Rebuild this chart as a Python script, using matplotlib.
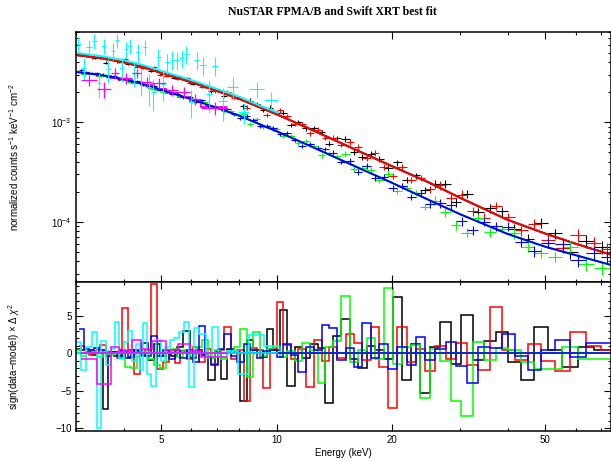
import numpy as np
import matplotlib
matplotlib.use("Agg")
import matplotlib.pyplot as plt
from matplotlib.ticker import FixedLocator, FixedFormatter, NullFormatter, LogLocator, MultipleLocator

plt.rcParams['font.family'] = ['Liberation Sans', 'DejaVu Sans']
plt.rcParams['mathtext.fontset'] = 'custom'
plt.rcParams['mathtext.rm'] = 'Liberation Sans'
plt.rcParams['mathtext.it'] = 'Liberation Sans:italic'

# ---- data (fluxes in units of 1e-3 counts/s/keV/cm^2) ----
FLUX_UNIT = 1e-3

# NuSTAR energy bins (keV): grid A -> black & green, grid B -> red & blue
energy_a = [3.05, 3.15, 3.25, 3.36, 3.47, 3.59, 3.71, 3.84, 3.97, 4.11, 4.25, 4.40, 4.55, 4.71, 4.88,
            5.05, 5.23, 5.42, 5.62, 5.83, 6.05, 6.28, 6.52, 6.77, 7.03, 7.30, 7.59, 7.89, 8.20, 8.53,
            8.87, 9.23, 9.61, 10.0, 10.4, 10.9, 11.4, 11.9, 12.5, 13.1, 13.7, 14.4, 15.1, 15.9, 16.7,
            17.6, 18.5, 19.5, 20.6, 21.8, 23.0, 24.4, 25.9, 27.5, 29.3, 31.3, 33.5, 35.9, 38.6, 41.6,
            45.0, 48.8, 53.0, 58.0, 64.0, 70.5]
energy_b = [3.10, 3.20, 3.30, 3.41, 3.53, 3.65, 3.77, 3.90, 4.04, 4.18, 4.33, 4.48, 4.63, 4.80, 4.97,
            5.14, 5.33, 5.52, 5.72, 5.94, 6.16, 6.40, 6.64, 6.90, 7.17, 7.45, 7.74, 8.05, 8.37, 8.70,
            9.05, 9.42, 9.80, 10.2, 10.65, 11.15, 11.65, 12.2, 12.8, 13.4, 14.05, 14.75, 15.5, 16.3, 17.15,
            18.05, 19.0, 20.05, 21.2, 22.4, 23.7, 25.15, 26.7, 28.4, 30.3, 32.4, 34.7, 37.2, 40.1, 43.3,
            46.9, 50.9, 55.5, 61.0, 67.0, 72.5]
err_frac = [0.03] * 28 + [0.05] * 14 + [0.07] * 10 + [0.10] * 7 + [0.12] * 4 + [0.15] * 3

flux_black = [4.81, 4.73, 4.63, 4.43, 4.49, 3.97, 4.30, 4.09, 4.14, 3.86, 3.91, 3.77, 3.64, 3.29, 3.34,
              3.04, 3.01, 2.81, 2.83, 2.76, 2.44, 2.44, 2.25, 2.04, 2.08, 1.84, 1.90, 1.77, 1.44, 1.65,
              1.51, 1.32, 1.40, 1.24, 1.25, 0.93, 1.00, 0.865, 0.865, 0.79, 0.61, 0.69, 0.678, 0.506, 0.443,
              0.482, 0.428, 0.348, 0.393, 0.261, 0.291, 0.210, 0.241, 0.241, 0.157, 0.190, 0.124, 0.137, 0.128,
              0.085, 0.067, 0.097, 0.076, 0.050, 0.064, 0.055]
flux_green = [3.24, 3.08, 3.14, 3.07, 2.92, 2.97, 2.82, 2.84, 2.68, 2.56, 2.48, 2.46, 2.41, 2.22, 2.10,
              2.00, 2.04, 1.97, 1.82, 1.80, 1.66, 1.65, 1.60, 1.43, 1.42, 1.28, 1.28, 1.21, 1.21, 0.957,
              1.07, 0.90, 0.899, 0.848, 0.730, 0.722, 0.617, 0.644, 0.572, 0.463, 0.494, 0.459, 0.476, 0.337,
              0.347, 0.334, 0.261, 0.302, 0.204, 0.216, 0.195, 0.140, 0.163, 0.124, 0.0926, 0.0776, 0.109,
              0.0782, 0.085, 0.0762, 0.056, 0.0487, 0.0444, 0.055, 0.0376, 0.0341]
flux_red = [4.81, 4.69, 4.47, 4.52, 4.51, 4.20, 4.25, 4.01, 4.28, 3.97, 3.59, 3.52, 3.52, 3.60, 3.01,
            2.93, 2.97, 2.71, 2.73, 2.49, 2.52, 2.25, 2.27, 2.04, 2.04, 2.02, 1.75, 1.76, 1.40, 1.57,
            1.46, 1.18, 1.29, 1.31, 1.14, 0.955, 0.966, 0.769, 0.843, 0.694, 0.70, 0.591, 0.629, 0.558,
            0.439, 0.486, 0.353, 0.290, 0.357, 0.264, 0.274, 0.211, 0.231, 0.173, 0.187, 0.128, 0.110,
            0.144, 0.112, 0.0815, 0.0939, 0.066, 0.0545, 0.074, 0.061, 0.0526]
flux_blue = [3.33, 3.18, 3.12, 3.09, 3.01, 2.84, 2.88, 2.72, 2.74, 2.57, 2.60, 2.39, 2.29, 2.33, 2.10,
             2.09, 1.92, 1.94, 1.78, 1.77, 1.61, 1.66, 1.47, 1.38, 1.38, 1.35, 1.20, 1.09, 1.14, 1.06,
             0.916, 0.916, 0.865, 0.757, 0.772, 0.661, 0.578, 0.608, 0.553, 0.541, 0.495, 0.396, 0.405,
             0.315, 0.363, 0.275, 0.284, 0.218, 0.227, 0.176, 0.194, 0.149, 0.154, 0.146, 0.101, 0.0824,
             0.100, 0.0894, 0.0891, 0.0625, 0.0506, 0.0612, 0.0593, 0.0408, 0.0487, 0.0445]

resid_black = [0.6, 0.5, 0.3, -0.2, 0.4, -7.4, 0.2, -0.3, 0.5, -0.6, 0.4, 0.3, 1.4, -0.9, 1.3, -0.4,
               0.2, -0.3, 0.8, 3.0, -0.6, 0.4, -0.2, -3.5, 0.3, -3.4, 0.6, 0.2, -6.4, 1.8, 0.4, -0.5,
               3.3, 0.5, 5.8, -4.3, 0.8, -0.6, 1.2, 0.7, -6.6, 2.3, 4.6, -0.8, -1.9, 1.0, 0.4, -0.7,
               7.5, -3.5, 1.2, -5.3, 0.9, 4.2, -1.4, 5.1, -0.9, 1.7, 2.9, -1.1, -3.6, 3.5, 0.4, -1.8,
               0.9, 0.5]
resid_green = [0.4, -0.3, 0.5, 0.2, -0.5, 0.3, -0.2, 0.1, -0.6, -1.8, -1.9, -0.4, 0.2, -0.7, -1.6, -2.0,
               0.3, 0.6, -0.5, 0.4, -0.3, 0.8, 1.8, -0.6, 0.5, -0.8, 0.3, 0.9, 3.2, -3.2, 2.8, -0.4,
               0.6, 0.9, -0.5, 0.3, -1.0, 1.4, 0.4, -3.9, 0.8, 1.6, 7.6, -1.2, 0.5, 2.0, -0.7, 8.7,
               -1.4, 0.9, 1.1, -6.0, 0.6, -1.0, -6.4, -8.3, 1.5, -0.9, 0.7, 0.4, -1.2, -2.1, -2.1, 0.8,
               -0.8, -0.8]
resid_red = [1.0, 0.4, -0.2, 0.3, 1.1, -0.4, 0.2, -0.6, 6.0, 0.5, -2.7, -0.3, 0.4, 9.2, -2.1, -1.2,
             0.5, -1.3, 0.3, -0.8, 0.9, -1.2, 0.6, -1.4, 0.4, 3.5, -0.7, 0.5, -6.4, 0.7, 0.5, -4.6,
             0.6, 6.9, 1.1, -0.8, 0.6, -4.5, 1.8, -1.0, 0.8, -0.6, 2.6, 1.4, -0.9, 3.5, -1.8, -7.3,
             3.5, -1.1, 0.6, -2.4, 1.0, -0.7, 1.4, -1.6, -2.2, 6.2, 0.5, -0.9, 1.2, -1.0, -2.4, 2.9,
             1.0, 0.4]
resid_blue = [3.3, 0.6, 0.5, 0.7, 0.5, -0.3, 0.2, -0.4, 0.3, -0.5, 0.4, -0.2, -0.4, 2.3, -0.3, 0.5,
              -0.8, 0.4, -0.6, 0.5, -1.2, 3.6, -0.4, -1.6, 0.6, 2.6, -0.4, -1.1, 1.2, 0.5, -0.6, 0.3,
              0.4, -0.5, 1.3, -0.2, -2.5, 0.9, 0.5, 3.8, 3.4, -0.9, 0.7, -1.8, 4.0, -0.6, 1.2, -2.1,
              0.8, -1.5, 2.2, -0.9, 0.6, 1.5, -1.7, -4.0, 0.9, 0.7, 2.6, -0.4, -2.2, 0.5, 1.8, -0.5,
              1.4, 1.4]

# best-fit model (counts spectrum) for the two NuSTAR pairs
model_energy = [3.0, 3.5, 4.0, 4.5, 5.0, 6.0, 7.0, 8.0, 10.0, 12.0, 15.0, 20.0, 25.0, 30.0, 40.0, 50.0, 60.0, 74.0]
model_high = [4.74, 4.39, 4.00, 3.56, 3.13, 2.52, 2.06, 1.71, 1.20, 0.88, 0.596, 0.360, 0.246, 0.174,
              0.104, 0.076, 0.060, 0.0467]
model_low = [3.20, 2.97, 2.70, 2.41, 2.12, 1.70, 1.39, 1.16, 0.81, 0.595, 0.403, 0.245, 0.164, 0.119,
             0.075, 0.056, 0.046, 0.0368]

# Swift XRT (cyan)
cyan_edges = [3.0, 3.1, 3.2, 3.3, 3.4, 3.5, 3.6, 3.7, 3.8, 3.9, 4.0, 4.1, 4.2, 4.3, 4.4, 4.5, 4.6, 4.7,
              4.85, 5.0, 5.13, 5.27, 5.42, 5.58, 5.74, 5.9, 6.1, 6.3, 6.54, 6.78, 7.05, 7.45, 7.95, 8.5,
              9.3, 10.1]
cyan_flux = [6.16, 3.53, 5.74, 6.56, 2.45, 5.84, 3.39, 5.19, 6.63, 3.49, 5.41, 5.83, 3.13, 5.04, 2.62,
             5.70, 2.24, 1.99, 4.52, 2.44, 3.98, 4.25, 4.22, 4.37, 4.82, 1.59, 4.21, 3.73, 1.94, 3.69,
             1.62, 2.26, 1.26, 2.16, 1.68]
cyan_err = [1.0, 0.9, 1.0, 1.1, 0.7, 1.0, 0.9, 1.0, 1.1, 0.9, 1.0, 1.0, 0.9, 1.0, 0.8, 1.0, 0.8, 0.7,
            0.9, 0.8, 0.9, 0.9, 0.9, 0.9, 1.0, 0.5, 0.9, 0.8, 0.7, 0.8, 0.6, 0.6, 0.3, 0.4, 0.35]
cyan_resid = [1.5, -2.2, 0.9, 2.8, -9.9, 1.6, -1.5, 0.6, 4.2, -0.7, 1.5, 3.0, -1.0, 1.3, -2.2, 4.0,
              -2.8, -4.3, 1.8, -1.0, 0.9, 1.8, 2.0, 2.8, 4.2, -4.5, 3.4, 2.6, -0.3, 3.5, -0.5, 0.3,
              -2.8, 2.5, 1.0]
cyan_model_energy = [3.0, 3.5, 4.0, 4.5, 5.0, 6.0, 7.0, 8.0, 9.0, 10.1]
cyan_model = [4.98, 4.61, 4.20, 3.74, 3.29, 2.65, 2.16, 1.80, 1.48, 1.24]

# Swift XRT (magenta)
magenta_edges = [3.1, 3.4, 3.7, 3.9, 4.2, 4.45, 4.75, 5.15, 5.55, 5.95, 6.35, 7.45]
magenta_flux = [2.65, 2.13, 3.10, 2.75, 3.10, 2.55, 2.45, 2.10, 2.00, 1.72, 1.38]
magenta_err = [0.35, 0.40, 0.40, 0.35, 0.35, 0.30, 0.30, 0.28, 0.25, 0.22, 0.20]
magenta_model = [3.08, 2.94, 2.80, 2.67, 2.52, 2.35, 2.15, 1.96, 1.80, 1.64, 1.42]
magenta_resid = [-0.8, -4.1, 0.8, 0.3, 1.8, 0.6, 1.6, 0.4, 1.2, 0.3, -0.5]

xtick_major = [5, 10, 20, 50]
xtick_minor = [3, 4, 6, 7, 8, 9, 30, 40, 60, 70]


def bin_edges(centres):
    # geometric mid points between neighbouring bin centres
    e = np.asarray(centres)
    mid = np.sqrt(e[:-1] * e[1:])
    return np.concatenate([[e[0] ** 2 / mid[0]], mid, [e[-1] ** 2 / mid[-1]]])


def centres_from_edges(edges):
    ed = np.asarray(edges)
    return 0.5 * (ed[:-1] + ed[1:]), 0.5 * (ed[1:] - ed[:-1])


def style_axes(ax):
    ax.set_xscale('log')
    ax.set_xlim(3.0, 74.0)
    ax.xaxis.set_major_locator(FixedLocator(xtick_major))
    ax.xaxis.set_minor_locator(FixedLocator(xtick_minor))
    ax.xaxis.set_minor_formatter(NullFormatter())
    ax.tick_params(which='both', direction='in', top=True, right=True, labelsize=7, width=0.8, pad=3)
    ax.tick_params(which='major', length=5)
    ax.tick_params(which='minor', length=2.5)
    for sp in ax.spines.values():
        sp.set_linewidth(1.1)


fig = plt.figure(figsize=(6.11, 4.61), dpi=100)
ax_top = fig.add_axes([75.7 / 611, 1 - 281.7 / 461, (610.5 - 75.7) / 611, 249.4 / 461])
ax_bot = fig.add_axes([75.7 / 611, 1 - 431 / 461, (610.5 - 75.7) / 611, 149.3 / 461])

nustar = [
    (energy_a, flux_black, resid_black, model_high, 'black'),
    (energy_b, flux_red, resid_red, model_high, 'red'),
    (energy_a, flux_green, resid_green, model_low, '#00ff00'),
    (energy_b, flux_blue, resid_blue, model_low, 'blue'),
]

for energy, flux, resid, model, color in nustar:
    e = np.asarray(energy)
    f = np.asarray(flux) * FLUX_UNIT
    edges = bin_edges(e)
    xerr = [e - edges[:-1], edges[1:] - e]
    yerr = f * np.asarray(err_frac)
    ax_top.errorbar(e, f, xerr=xerr, yerr=yerr, fmt='none', ecolor=color, elinewidth=0.8, capsize=0)
    ax_top.plot(model_energy, np.asarray(model) * FLUX_UNIT, color=color, lw=1.4)
    ax_bot.stairs(resid, edges, baseline=None, color=color, lw=1.1)
    ax_bot.hlines(0, edges[0], edges[-1], color=color, lw=1.1)

# Swift XRT
cx, cw = centres_from_edges(cyan_edges)
ax_top.errorbar(cx, np.asarray(cyan_flux) * FLUX_UNIT, xerr=cw, yerr=np.asarray(cyan_err) * FLUX_UNIT,
                fmt='none', ecolor='cyan', elinewidth=0.8, capsize=0)
ax_top.plot(cyan_model_energy, np.asarray(cyan_model) * FLUX_UNIT, color='cyan', lw=1.4)
ax_bot.stairs(cyan_resid, cyan_edges, baseline=None, color='cyan', lw=1.1)
ax_bot.hlines(0, cyan_edges[0], cyan_edges[-1], color='cyan', lw=1.1)

mx, mw = centres_from_edges(magenta_edges)
ax_top.errorbar(mx, np.asarray(magenta_flux) * FLUX_UNIT, xerr=mw, yerr=np.asarray(magenta_err) * FLUX_UNIT,
                fmt='none', ecolor='magenta', elinewidth=0.9, capsize=0)
ax_top.stairs(np.asarray(magenta_model) * FLUX_UNIT, magenta_edges, baseline=None, color='magenta', lw=1.4)
ax_bot.stairs(magenta_resid, magenta_edges, baseline=None, color='magenta', lw=1.1)
ax_bot.hlines(0, magenta_edges[0], magenta_edges[-1], color='magenta', lw=1.1)

# top panel
style_axes(ax_top)
ax_top.set_yscale('log')
ax_top.set_ylim(2.49e-5, 8.0e-3)
ax_top.yaxis.set_major_locator(LogLocator(base=10))
ax_top.yaxis.set_minor_locator(LogLocator(base=10, subs=np.arange(2, 10)))
ax_top.yaxis.set_minor_formatter(NullFormatter())
ax_top.xaxis.set_major_formatter(NullFormatter())

# residual panel
style_axes(ax_bot)
ax_bot.set_ylim(-10.36, 9.55)
ax_bot.yaxis.set_major_locator(MultipleLocator(5))
ax_bot.yaxis.set_minor_locator(MultipleLocator(1))
ax_bot.xaxis.set_major_formatter(FixedFormatter([str(v) for v in xtick_major]))
ax_bot.set_xlabel('Energy (keV)', fontsize=7, labelpad=2)

fig.text(332 / 611, 1 - 12 / 461, 'NuSTAR FPMA/B and Swift XRT best fit', ha='center', va='center',
         family='Liberation Serif', weight='bold', size=8.5)
fig.text(14 / 611, 1 - 157 / 461, r'normalized counts s$^{-1}$ keV$^{-1}$ cm$^{-2}$', rotation=90,
         ha='center', va='center', size=7)
fig.text(14 / 611, 1 - 356.5 / 461, r'sign(data$-$model) $\times$ $\Delta$ $\chi^{2}$', rotation=90,
         ha='center', va='center', size=7)

fig.savefig('out.png', dpi=100)
